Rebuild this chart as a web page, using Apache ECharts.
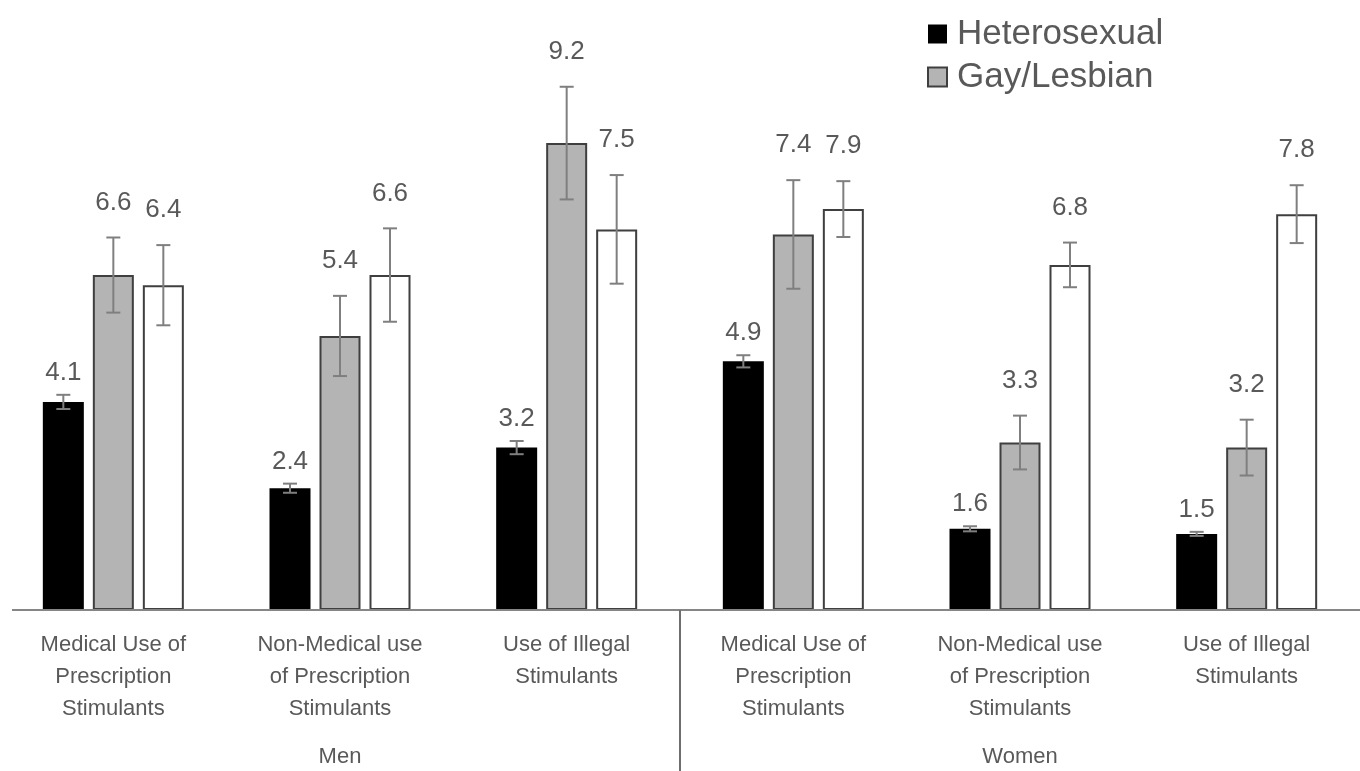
<!DOCTYPE html>
<html>
<head>
<meta charset="utf-8">
<script src="https://cdn.jsdelivr.net/npm/echarts@6/dist/echarts.min.js"></script>
<style>
html,body{margin:0;padding:0;background:#fff;}
#chart{width:1360px;height:771px;}
</style>
</head>
<body>
<div id="chart"></div>
<script>
// ---- data ----
const groups = ['Men', 'Women'];
const subCategories = [
  'Medical Use of\nPrescription\nStimulants',
  'Non-Medical use\nof Prescription\nStimulants',
  'Use of Illegal\nStimulants'
];
const seriesNames = ['Heterosexual', 'Gay/Lesbian', 'Bisexual'];
const heterosexual = [4.1, 2.4, 3.2, 4.9, 1.6, 1.5];
const gayLesbian   = [6.6, 5.4, 9.2, 7.4, 3.3, 3.2];
const bisexual     = [6.4, 6.6, 7.5, 7.9, 6.8, 7.8];
const heteroErr    = [0.14, 0.09, 0.13, 0.12, 0.05, 0.04];
const gayErr       = [0.74, 0.79, 1.11, 1.07, 0.53, 0.55];
const biErr        = [0.79, 0.92, 1.07, 0.55, 0.44, 0.57];

// ---- build ----
const categories = groups.flatMap(() => subCategories);
const values = [heterosexual, gayLesbian, bisexual];
const errs = [heteroErr, gayErr, biErr];

const BAR_W = 41, BAR_GAP = 9;
const TEXT = '#595959';
const FONT = "'Liberation Sans', Arial, sans-serif";
const fills = ['#000000', '#b4b4b4', '#ffffff'];
const borders = ['#000000', '#3f3f3f', '#3f3f3f'];
const labelLift = [22, 35, 35];

const chart = echarts.init(document.getElementById('chart'), null, {renderer: 'canvas'});

const barSeries = values.map((vals, s) => ({
  name: seriesNames[s],
  type: 'bar',
  xAxisIndex: 0,
  barWidth: BAR_W,
  barGap: (BAR_GAP / BAR_W * 100) + '%',
  itemStyle: {color: fills[s], borderColor: borders[s], borderWidth: s === 0 ? 0 : 2},
  emphasis: {disabled: true},
  data: vals,
  z: 2
}));

const errSeries = values.map((vals, s) => ({
  name: seriesNames[s] + ' err',
  type: 'custom',
  xAxisIndex: 0,
  z: 5,
  silent: true,
  data: vals.map((v, i) => [i, v, errs[s][i]]),
  encode: {x: 0, y: 1},
  renderItem: function (params, api) {
    const i = api.value(0), v = api.value(1), e = api.value(2);
    const off = (s - 1) * (BAR_W + BAR_GAP);
    const top = api.coord([i, v + e]);
    const bot = api.coord([i, v - e]);
    const x = top[0] + off;
    const cap = 7;
    const ls = {stroke: '#7f7f7f', lineWidth: 2};
    return {
      type: 'group',
      children: [
        {type: 'line', shape: {x1: x, y1: top[1], x2: x, y2: bot[1]}, style: ls},
        {type: 'line', shape: {x1: x - cap, y1: top[1], x2: x + cap, y2: top[1]}, style: ls},
        {type: 'line', shape: {x1: x - cap, y1: bot[1], x2: x + cap, y2: bot[1]}, style: ls},
        {type: 'text', x: x, y: top[1] - labelLift[s],
          style: {text: v.toFixed(1), align: 'center', verticalAlign: 'middle',
                  fontSize: 26, fontFamily: FONT, fill: TEXT}}
      ]
    };
  }
}));

chart.setOption({
  animation: false,
  backgroundColor: '#ffffff',
  legend: {
    data: ['Heterosexual', 'Gay/Lesbian'],
    orient: 'vertical',
    left: 922,
    top: 11,
    itemWidth: 19,
    itemHeight: 19,
    itemGap: 7,
    icon: 'rect',
    selectedMode: false,
    textStyle: {fontSize: 35, lineHeight: 36, color: TEXT, fontFamily: FONT, padding: [0, 0, 0, 5]}
  },
  grid: {left: -2, right: -10, top: 1, bottom: 161, containLabel: false},
  xAxis: [
    {
      type: 'category',
      data: categories,
      position: 'bottom',
      axisLine: {show: false},
      axisTick: {show: false},
      axisLabel: {
        interval: 0, margin: 19, color: TEXT, fontSize: 22, lineHeight: 32,
        fontFamily: FONT
      }
    },
    {
      type: 'category',
      data: groups,
      position: 'bottom',
      offset: 0,
      axisLine: {show: false},
      axisTick: {show: false},
      axisLabel: {
        interval: 0, margin: 136, color: TEXT, fontSize: 22,
        fontFamily: FONT
      }
    }
  ],
  yAxis: {
    type: 'value', min: 0, max: 12, show: false,
    splitLine: {show: false}
  },
  series: [...barSeries, ...errSeries]
});

// axis baseline and group divider, positioned from the axes
const baseY = chart.convertToPixel({yAxisIndex: 0}, 0);
const c2 = chart.convertToPixel({xAxisIndex: 0}, 2);
const c3 = chart.convertToPixel({xAxisIndex: 0}, 3);
const divX = Math.round((c2 + c3) / 2);
chart.setOption({
  graphic: [
    {type: 'line', z: 10, shape: {x1: 12, y1: baseY, x2: 1360, y2: baseY},
     style: {stroke: '#868686', lineWidth: 2}},
    {type: 'line', z: 10, shape: {x1: divX, y1: baseY, x2: divX, y2: 771},
     style: {stroke: '#6e6e6e', lineWidth: 2}}
  ]
});
</script>
</body>
</html>
